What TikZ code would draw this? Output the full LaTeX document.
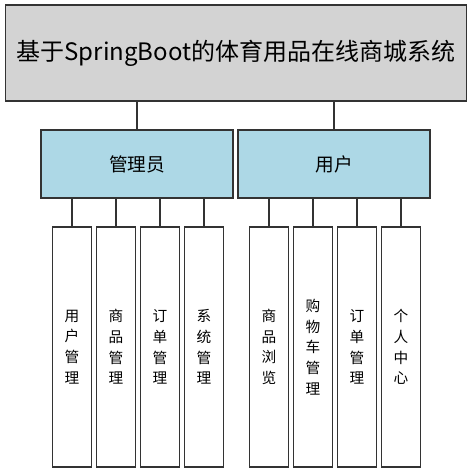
\documentclass[tikz,border=0pt]{standalone}
\usepackage{fontspec}
\setmainfont{Noto Sans CJK SC}
\definecolor{sysgray}{HTML}{D3D3D3}
\definecolor{roleblue}{HTML}{ADD8E6}
\begin{document}
\begin{tikzpicture}[x = 0.75pt, y = -0.75pt,
	box/.style = {draw = black!80, line width = 1pt, inner sep = 0pt, align = center},
	role/.style = {box, fill = roleblue, minimum width = 144pt, minimum height = 51pt, font = \fontsize{14}{17}\selectfont},
	leaf/.style = {box, minimum width = 29.25pt, minimum height = 180pt, font = \fontsize{11}{15.5}\selectfont},
	link/.style = {draw = black!80, line width = 1pt}]

% Definitions

\def\Yrole{164}		% Role row
\def\Yleaf{347}		% Function row

\useasboundingbox (0, 0) rectangle (472, 473);

% System

\node [box, fill = sysgray, minimum width = 345.75pt, minimum height = 72pt, font = \fontsize{18}{22}\selectfont] (sys) at (236, 53) {基于SpringBoot的体育用品在线商城系统};

% Roles

\node [role] (admin) at (137, \Yrole) {管理员};
\node [role] (user) at (334, \Yrole) {用户};

\draw [link] (admin.north) -- (admin.north |- sys.south);
\draw [link] (user.north) -- (user.north |- sys.south);

% Administrator functions

\foreach \n/\x/\txt in {au/72/{用\\户\\管\\理}, ag/116/{商\\品\\管\\理}, ao/160/{订\\单\\管\\理}, as/204/{系\\统\\管\\理}} {
	\node [leaf] (\n) at (\x, \Yleaf) {\txt};
	\draw [link] (\n.north) -- (\n.north |- admin.south);
}

% User functions

\foreach \n/\x/\txt in {ub/269/{商\\品\\浏\\览}, uc/313/{购\\物\\车\\管\\理}, uo/357/{订\\单\\管\\理}, up/401/{个\\人\\中\\心}} {
	\node [leaf] (\n) at (\x, \Yleaf) {\txt};
	\draw [link] (\n.north) -- (\n.north |- user.south);
}

\end{tikzpicture}
\end{document}
